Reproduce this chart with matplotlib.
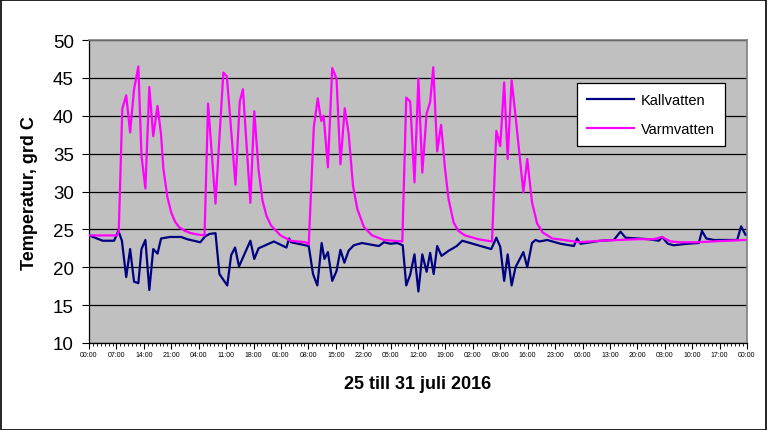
import matplotlib
matplotlib.use('Agg')
import matplotlib.pyplot as plt
from matplotlib.patches import Rectangle

plt.rcParams['font.family'] = ['Liberation Sans', 'DejaVu Sans']

# hours since 25 juli 00:00
kall_t = [0, 3.5, 6.4, 7.5, 8.4, 9.5, 10.5, 11.5, 12.6, 13.4, 14.4, 15.4, 16.4, 17.5, 18.4,
          20.7, 23.5, 25.1, 28.4, 29.7, 30.8, 32.3, 33.3, 35.3, 36.3, 37.3, 38.3, 41.2,
          42.2, 43.3, 47.2, 50.4, 51.1, 51.6, 56.1, 57.2, 58.3, 59.4, 60.1, 61.0, 62.1,
          63.2, 64.2, 65.2, 66.3, 67.6, 69.7, 74.0, 75.3, 77.0, 78.7, 80.1, 81.0, 82.0,
          83.1, 84.1, 85.1, 86.2, 87.1, 88.0, 88.9, 90.0, 91.9, 93.9, 95.3, 102.7, 104.0,
          105.0, 106.0, 106.9, 107.9, 108.9, 110.9, 111.9, 113.1, 114.0, 115.0, 117.0,
          120.4, 123.8, 124.6, 125.5, 130.6, 134.0, 135.7, 137.0, 140.0, 142.9, 145.5,
          146.3, 147.8, 149.3, 152.7, 155.7, 156.5, 157.6, 159.5, 165.5, 166.5, 167.6]
kall_v = [24.2, 23.5, 23.5, 24.8, 23.5, 18.7, 22.4, 18.1, 17.9, 22.4, 23.6, 17.0, 22.4, 21.8, 23.8,
          24.0, 24.0, 23.7, 23.3, 24.1, 24.4, 24.5, 19.1, 17.6, 21.6, 22.6, 20.1, 23.5,
          21.1, 22.5, 23.4, 22.6, 23.8, 23.3, 22.8, 19.1, 17.6, 23.2, 21.1, 22.0, 18.2,
          19.5, 22.3, 20.6, 22.2, 22.9, 23.2, 22.8, 23.3, 23.1, 23.2, 22.9, 17.6, 19.0,
          21.7, 16.8, 21.7, 19.4, 21.9, 19.1, 22.8, 21.5, 22.2, 22.8, 23.5, 22.4, 23.9,
          22.7, 18.2, 21.7, 17.6, 20.0, 22.0, 20.0, 23.2, 23.6, 23.4, 23.6,
          23.1, 22.8, 23.8, 23.1, 23.5, 23.6, 24.7, 23.9, 23.8, 23.7, 23.5,
          24.0, 23.1, 22.9, 23.1, 23.2, 24.8, 23.8, 23.6, 23.6, 25.4, 24.3]

varm_t = [0, 7.2, 7.6, 8.5, 9.5, 10.5, 11.5, 12.6, 13.4, 14.4, 15.4, 16.4, 17.5, 18.4, 19.0,
          20.0, 21.0, 22.0, 23.0, 24.5, 26.0, 28.0, 29.5, 30.4, 32.3, 34.3, 35.2, 37.4,
          38.5, 39.3, 41.2, 42.2, 43.3, 44.3, 45.3, 46.5, 48.9, 51.5, 55.3, 56.1, 57.4,
          58.4, 59.3, 59.9, 61.0, 62.1, 63.2, 64.2, 65.3, 66.3, 67.4, 68.5, 70.2, 72.3,
          75.3, 80.0, 81.0, 82.0, 83.1, 84.1, 85.1, 86.2, 87.1, 87.9, 88.9, 89.9, 90.9,
          91.8, 93.1, 94.3, 96.0, 99.4, 102.9, 104.0, 105.0, 106.0, 106.9, 107.9, 108.9,
          110.9, 111.9, 113.1, 114.4, 115.8, 118.3, 122.6, 125.2, 130.6, 140.0, 144.2,
          146.3, 148.5, 151.0, 155.0, 163.0, 167.6]
varm_v = [24.2, 24.2, 24.8, 40.9, 42.7, 37.8, 43.5, 46.5, 34.7, 30.4, 43.8, 37.3, 41.3, 37.5, 33.0,
          29.3, 27.2, 26.0, 25.3, 24.8, 24.5, 24.3, 24.2, 41.6, 28.4, 45.7, 45.2, 30.9,
          41.9, 43.5, 28.5, 40.6, 32.8, 28.8, 26.8, 25.5, 24.2, 23.5, 23.3, 23.0, 38.5,
          42.3, 39.3, 40.0, 33.2, 46.3, 44.9, 33.6, 41.0, 37.6, 30.8, 27.7, 25.3, 24.2,
          23.6, 23.4, 42.4, 41.9, 31.2, 44.9, 32.5, 40.3, 41.8, 46.4, 35.3, 38.8, 33.0,
          29.0, 25.9, 24.8, 24.2, 23.7, 23.4, 38.0, 36.0, 44.4, 34.3, 44.7, 40.0,
          29.9, 34.3, 28.6, 25.8, 24.6, 23.8, 23.5, 23.3, 23.5, 23.7, 23.7,
          24.0, 23.4, 23.3, 23.3, 23.5, 23.6]

tick_hours = list(range(0, 169, 7))
tick_labels = ['%02d:00' % (h % 24) for h in tick_hours]

fig = plt.figure(figsize=(7.68, 4.31), dpi=100)
fig.patches.append(Rectangle((0.001, 0.001), 0.997, 0.996, transform=fig.transFigure,
                             fill=False, edgecolor='black', linewidth=1.2))

ax = fig.add_axes([89 / 768, 1 - 344 / 431, 658 / 768, 303 / 431])
ax.set_facecolor('#C0C0C0')
ax.plot(kall_t, kall_v, color='#000080', lw=1.6, label='Kallvatten', zorder=3)
ax.plot(varm_t, varm_v, color='#FF00FF', lw=1.6, label='Varmvatten', zorder=3)

ax.set_xlim(0, 168)
ax.set_ylim(10, 50)
ax.set_yticks(range(10, 51, 5))
ax.yaxis.grid(True, color='black', lw=0.9)
ax.set_axisbelow(True)
ax.set_xticks(tick_hours)
ax.set_xticklabels(tick_labels, fontsize=5)
ax.set_xticks(range(0, 169), minor=True)
ax.tick_params(axis='x', which='major', length=4, width=0.8, pad=2)
ax.tick_params(axis='x', which='minor', length=2.5, width=0.6)
ax.tick_params(axis='y', length=5, width=0.8, labelsize=13.5, pad=6)
for side in ('top', 'right'):
    ax.spines[side].set_color('#808080')
    ax.spines[side].set_linewidth(1.2)
for side in ('left', 'bottom'):
    ax.spines[side].set_color('black')
    ax.spines[side].set_linewidth(0.9)

fig.text(30 / 768, 1 - 193 / 431, 'Temperatur, grd C', rotation=90, fontsize=13,
         fontweight='bold', ha='center', va='center')
fig.text(418 / 768, 1 - 385 / 431, '25 till 31 juli 2016', fontsize=13,
         fontweight='bold', ha='center', va='center')

leg = ax.legend(loc='upper left', bbox_to_anchor=((577 - 89) / 658, (344 - 84) / 303),
                fontsize=10.5, frameon=True, fancybox=False, handlelength=3.2,
                handletextpad=0.5, labelspacing=1.0, borderpad=0.7, borderaxespad=0)
leg.get_frame().set_edgecolor('black')
leg.get_frame().set_linewidth(0.9)
leg.get_frame().set_alpha(1)

fig.savefig('out.png', dpi=100)
